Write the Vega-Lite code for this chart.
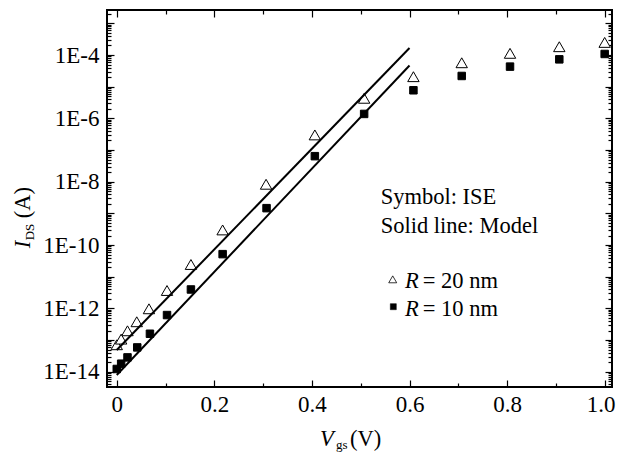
{
  "$schema": "https://vega.github.io/schema/vega-lite/v6.json",
  "width": 505,
  "height": 377,
  "autosize": {"type": "none"},
  "padding": {"left": 107, "top": 10, "right": 6, "bottom": 65},
  "background": "white",
  "config": {
    "view": {"stroke": "black", "strokeWidth": 2},
    "font": "Liberation Serif",
    "axis": {"labelFont": "Liberation Serif", "labelFontSize": 23, "labelColor": "black", "tickColor": "black", "tickWidth": 1.2, "domain": false, "grid": false, "labelFlush": false, "labelOverlap": false}
  },
  "datasets": {
    "ise": [
      {"R": "20 nm", "Vgs": 0.0, "Ids": 7.1e-14},
      {"R": "20 nm", "Vgs": 0.009, "Ids": 1.07e-13},
      {"R": "20 nm", "Vgs": 0.022, "Ids": 1.96e-13},
      {"R": "20 nm", "Vgs": 0.041, "Ids": 3.78e-13},
      {"R": "20 nm", "Vgs": 0.066, "Ids": 9.7e-13},
      {"R": "20 nm", "Vgs": 0.103, "Ids": 3.67e-12},
      {"R": "20 nm", "Vgs": 0.152, "Ids": 2.43e-11},
      {"R": "20 nm", "Vgs": 0.217, "Ids": 3.0e-10},
      {"R": "20 nm", "Vgs": 0.306, "Ids": 8.3e-9},
      {"R": "20 nm", "Vgs": 0.406, "Ids": 3.0e-7},
      {"R": "20 nm", "Vgs": 0.507, "Ids": 4.3e-6},
      {"R": "20 nm", "Vgs": 0.608, "Ids": 2.07e-5},
      {"R": "20 nm", "Vgs": 0.707, "Ids": 5.7e-5},
      {"R": "20 nm", "Vgs": 0.806, "Ids": 1.13e-4},
      {"R": "20 nm", "Vgs": 0.907, "Ids": 1.83e-4},
      {"R": "20 nm", "Vgs": 1.0, "Ids": 2.5e-4},
      {"R": "10 nm", "Vgs": 0.0, "Ids": 1.22e-14},
      {"R": "10 nm", "Vgs": 0.009, "Ids": 1.79e-14},
      {"R": "10 nm", "Vgs": 0.022, "Ids": 2.83e-14},
      {"R": "10 nm", "Vgs": 0.042, "Ids": 5.85e-14},
      {"R": "10 nm", "Vgs": 0.068, "Ids": 1.58e-13},
      {"R": "10 nm", "Vgs": 0.103, "Ids": 6.15e-13},
      {"R": "10 nm", "Vgs": 0.152, "Ids": 3.95e-12},
      {"R": "10 nm", "Vgs": 0.217, "Ids": 5.16e-11},
      {"R": "10 nm", "Vgs": 0.307, "Ids": 1.46e-9},
      {"R": "10 nm", "Vgs": 0.406, "Ids": 6.4e-8},
      {"R": "10 nm", "Vgs": 0.507, "Ids": 1.38e-6},
      {"R": "10 nm", "Vgs": 0.608, "Ids": 7.7e-6},
      {"R": "10 nm", "Vgs": 0.707, "Ids": 2.18e-5},
      {"R": "10 nm", "Vgs": 0.806, "Ids": 4.3e-5},
      {"R": "10 nm", "Vgs": 0.907, "Ids": 7.3e-5},
      {"R": "10 nm", "Vgs": 1.0, "Ids": 1.08e-4}
    ],
    "model": [
      {"R": "20 nm", "Vgs": 0.0, "Ids": 4.84e-14},
      {"R": "20 nm", "Vgs": 0.6, "Ids": 1.66e-4},
      {"R": "10 nm", "Vgs": 0.0, "Ids": 7.87e-15},
      {"R": "10 nm", "Vgs": 0.6, "Ids": 4.67e-5}
    ],
    "one": [{}]
  },
  "resolve": {"axis": {"x": "independent", "y": "independent"}},
  "layer": [
    {
      "data": {"name": "ise"},
      "transform": [{"filter": "datum.R == '20 nm'"}],
      "mark": {"type": "point", "shape": "triangle-up", "size": 130, "filled": true, "fill": "white", "stroke": "black", "strokeWidth": 1, "opacity": 1},
      "encoding": {
        "x": {"field": "Vgs", "type": "quantitative", "scale": {"domain": [-0.02, 1.015], "nice": false, "zero": false},
          "axis": {"orient": "bottom", "values": [0, 0.2, 0.4, 0.6, 0.8, 1], "ticks": false, "labelPadding": 6, "labelOffset": {"condition": {"test": "datum.value == 1", "value": -4}, "value": 0}, "labelExpr": "datum.value == 0 ? '0' : format(datum.value, '.1f')", "title": null}},
        "y": {"field": "Ids", "type": "quantitative", "scale": {"type": "log", "domain": [3.29e-15, 2.64e-3], "nice": false, "zero": false},
          "axis": {"orient": "left", "values": [1e-14, 1e-12, 1e-10, 1e-8, 1e-6, 1e-4], "ticks": false, "labelPadding": 8, "labelExpr": "'1E-' + round(-log(datum.value)/LN10)", "title": null}}
      }
    },
    {
      "data": {"name": "ise"},
      "transform": [{"filter": "datum.R == '10 nm'"}],
      "mark": {"type": "point", "shape": "square", "size": 56, "filled": true, "fill": "black", "stroke": "black", "strokeWidth": 1, "opacity": 1},
      "encoding": {
        "x": {"field": "Vgs", "type": "quantitative", "scale": {"domain": [-0.02, 1.015], "nice": false, "zero": false},
          "axis": {"orient": "bottom", "values": [0, 0.2, 0.4, 0.6, 0.8, 1], "labels": false, "tickSize": -7, "title": null}},
        "y": {"field": "Ids", "type": "quantitative", "scale": {"type": "log", "domain": [3.29e-15, 2.64e-3], "nice": false, "zero": false},
          "axis": {"orient": "left", "values": [1e-14, 1e-13, 1e-12, 1e-11, 1e-10, 1e-9, 1e-8, 1e-7, 1e-6, 1e-5, 1e-4, 1e-3], "labels": false, "tickSize": -7, "title": null}}
      }
    },
    {
      "data": {"name": "model"},
      "mark": {"type": "line", "color": "black", "strokeWidth": 2},
      "encoding": {
        "detail": {"field": "R"},
        "x": {"field": "Vgs", "type": "quantitative", "scale": {"domain": [-0.02, 1.015], "nice": false, "zero": false},
          "axis": {"orient": "bottom", "values": [0.1, 0.3, 0.5, 0.7, 0.9], "labels": false, "tickSize": -4, "title": null}},
        "y": {"field": "Ids", "type": "quantitative", "scale": {"type": "log", "domain": [3.29e-15, 2.64e-3], "nice": false, "zero": false},
          "axis": {"orient": "left", "values": [4e-15,5e-15,6e-15,7e-15,8e-15,9e-15,2e-14,3e-14,4e-14,5e-14,6e-14,7e-14,8e-14,9e-14,2e-13,3e-13,4e-13,5e-13,6e-13,7e-13,8e-13,9e-13,2e-12,3e-12,4e-12,5e-12,6e-12,7e-12,8e-12,9e-12,2e-11,3e-11,4e-11,5e-11,6e-11,7e-11,8e-11,9e-11,2e-10,3e-10,4e-10,5e-10,6e-10,7e-10,8e-10,9e-10,2e-9,3e-9,4e-9,5e-9,6e-9,7e-9,8e-9,9e-9,2e-8,3e-8,4e-8,5e-8,6e-8,7e-8,8e-8,9e-8,2e-7,3e-7,4e-7,5e-7,6e-7,7e-7,8e-7,9e-7,2e-6,3e-6,4e-6,5e-6,6e-6,7e-6,8e-6,9e-6,2e-5,3e-5,4e-5,5e-5,6e-5,7e-5,8e-5,9e-5,2e-4,3e-4,4e-4,5e-4,6e-4,7e-4,8e-4,9e-4,2e-3], "labels": false, "tickSize": -4, "title": null}}
      }
    },
    {
      "data": {"name": "one"},
      "mark": {"type": "text", "text": ["Symbol: ISE", "Solid line: Model"], "align": "left", "baseline": "alphabetic", "fontSize": 22.5, "lineHeight": 29, "color": "black"},
      "encoding": {
        "x": {"datum": 0.541, "type": "quantitative", "scale": {"domain": [-0.02, 1.015], "nice": false, "zero": false},
          "axis": {"orient": "top", "values": [0, 0.2, 0.4, 0.6, 0.8, 1], "labels": false, "tickSize": -7, "title": null}},
        "y": {"datum": 1.93e-9, "type": "quantitative", "scale": {"type": "log", "domain": [3.29e-15, 2.64e-3], "nice": false, "zero": false},
          "axis": {"orient": "right", "values": [1e-14, 1e-13, 1e-12, 1e-11, 1e-10, 1e-9, 1e-8, 1e-7, 1e-6, 1e-5, 1e-4, 1e-3], "labels": false, "tickSize": -7, "title": null}}
      }
    },
    {
      "data": {"name": "one"},
      "mark": {"type": "point", "shape": "triangle-up", "size": 64, "filled": true, "fill": "white", "stroke": "black", "strokeWidth": 0.8, "opacity": 1},
      "encoding": {
        "x": {"datum": 0.5656, "type": "quantitative", "scale": {"domain": [-0.02, 1.015], "nice": false, "zero": false},
          "axis": {"orient": "top", "values": [0.1, 0.3, 0.5, 0.7, 0.9], "labels": false, "tickSize": -4, "title": null}},
        "y": {"datum": 8.26e-12, "type": "quantitative", "scale": {"type": "log", "domain": [3.29e-15, 2.64e-3], "nice": false, "zero": false},
          "axis": {"orient": "right", "values": [4e-15,5e-15,6e-15,7e-15,8e-15,9e-15,2e-14,3e-14,4e-14,5e-14,6e-14,7e-14,8e-14,9e-14,2e-13,3e-13,4e-13,5e-13,6e-13,7e-13,8e-13,9e-13,2e-12,3e-12,4e-12,5e-12,6e-12,7e-12,8e-12,9e-12,2e-11,3e-11,4e-11,5e-11,6e-11,7e-11,8e-11,9e-11,2e-10,3e-10,4e-10,5e-10,6e-10,7e-10,8e-10,9e-10,2e-9,3e-9,4e-9,5e-9,6e-9,7e-9,8e-9,9e-9,2e-8,3e-8,4e-8,5e-8,6e-8,7e-8,8e-8,9e-8,2e-7,3e-7,4e-7,5e-7,6e-7,7e-7,8e-7,9e-7,2e-6,3e-6,4e-6,5e-6,6e-6,7e-6,8e-6,9e-6,2e-5,3e-5,4e-5,5e-5,6e-5,7e-5,8e-5,9e-5,2e-4,3e-4,4e-4,5e-4,6e-4,7e-4,8e-4,9e-4,2e-3], "labels": false, "tickSize": -4, "title": null}}
      }
    },
    {
      "data": {"name": "one"},
      "mark": {"type": "point", "shape": "square", "size": 36, "filled": true, "fill": "black", "stroke": "black", "strokeWidth": 0.5, "opacity": 1},
      "encoding": {
        "x": {"datum": 0.5668, "type": "quantitative", "scale": {"domain": [-0.02, 1.015], "nice": false, "zero": false}, "axis": null},
        "y": {"datum": 1.13e-12, "type": "quantitative", "scale": {"type": "log", "domain": [3.29e-15, 2.64e-3], "nice": false, "zero": false}, "axis": null}
      }
    },
    {
      "data": {"name": "one"},
      "mark": {"type": "text", "text": ["R", "R"], "fontStyle": "italic", "align": "left", "baseline": "alphabetic", "fontSize": 22.5, "lineHeight": 27.4, "color": "black"},
      "encoding": {
        "x": {"datum": 0.5908, "type": "quantitative", "scale": {"domain": [-0.02, 1.015], "nice": false, "zero": false}, "axis": null},
        "y": {"datum": 4.3e-12, "type": "quantitative", "scale": {"type": "log", "domain": [3.29e-15, 2.64e-3], "nice": false, "zero": false}, "axis": null}
      }
    },
    {
      "data": {"name": "one"},
      "mark": {"type": "text", "text": ["= 20 nm", "= 10 nm"], "align": "left", "baseline": "alphabetic", "fontSize": 22.5, "lineHeight": 27.4, "color": "black"},
      "encoding": {
        "x": {"datum": 0.627, "type": "quantitative", "scale": {"domain": [-0.02, 1.015], "nice": false, "zero": false}, "axis": null},
        "y": {"datum": 4.3e-12, "type": "quantitative", "scale": {"type": "log", "domain": [3.29e-15, 2.64e-3], "nice": false, "zero": false}, "axis": null}
      }
    },
    {
      "data": {"name": "one"},
      "mark": {"type": "text", "text": "V", "fontStyle": "italic", "align": "left", "baseline": "alphabetic", "fontSize": 22.5, "color": "black"},
      "encoding": {
        "x": {"datum": 0.4166, "type": "quantitative", "scale": {"domain": [-0.02, 1.015], "nice": false, "zero": false}, "axis": null},
        "y": {"datum": 4.51e-17, "type": "quantitative", "scale": {"type": "log", "domain": [3.29e-15, 2.64e-3], "nice": false, "zero": false}, "axis": null}
      }
    },
    {
      "data": {"name": "one"},
      "mark": {"type": "text", "text": "gs", "align": "left", "baseline": "alphabetic", "fontSize": 13, "color": "black"},
      "encoding": {
        "x": {"datum": 0.4494, "type": "quantitative", "scale": {"domain": [-0.02, 1.015], "nice": false, "zero": false}, "axis": null},
        "y": {"datum": 3.75e-17, "type": "quantitative", "scale": {"type": "log", "domain": [3.29e-15, 2.64e-3], "nice": false, "zero": false}, "axis": null}
      }
    },
    {
      "data": {"name": "one"},
      "mark": {"type": "text", "text": "(V)", "align": "left", "baseline": "alphabetic", "fontSize": 22.5, "color": "black"},
      "encoding": {
        "x": {"datum": 0.478, "type": "quantitative", "scale": {"domain": [-0.02, 1.015], "nice": false, "zero": false}, "axis": null},
        "y": {"datum": 4.51e-17, "type": "quantitative", "scale": {"type": "log", "domain": [3.29e-15, 2.64e-3], "nice": false, "zero": false}, "axis": null}
      }
    },
    {
      "data": {"name": "one"},
      "mark": {"type": "text", "text": "I", "fontStyle": "italic", "angle": 270, "align": "left", "baseline": "alphabetic", "fontSize": 22.5, "color": "black"},
      "encoding": {
        "x": {"datum": -0.1777, "type": "quantitative", "scale": {"domain": [-0.02, 1.015], "nice": false, "zero": false}, "axis": null},
        "y": {"datum": 7.87e-11, "type": "quantitative", "scale": {"type": "log", "domain": [3.29e-15, 2.64e-3], "nice": false, "zero": false}, "axis": null}
      }
    },
    {
      "data": {"name": "one"},
      "mark": {"type": "text", "text": "DS", "angle": 270, "align": "left", "baseline": "alphabetic", "fontSize": 13, "color": "black"},
      "encoding": {
        "x": {"datum": -0.1695, "type": "quantitative", "scale": {"domain": [-0.02, 1.015], "nice": false, "zero": false}, "axis": null},
        "y": {"datum": 1.41e-10, "type": "quantitative", "scale": {"type": "log", "domain": [3.29e-15, 2.64e-3], "nice": false, "zero": false}, "axis": null}
      }
    },
    {
      "data": {"name": "one"},
      "mark": {"type": "text", "text": "(A)", "angle": 270, "align": "left", "baseline": "alphabetic", "fontSize": 22.5, "color": "black"},
      "encoding": {
        "x": {"datum": -0.1777, "type": "quantitative", "scale": {"domain": [-0.02, 1.015], "nice": false, "zero": false}, "axis": null},
        "y": {"datum": 7.03e-10, "type": "quantitative", "scale": {"type": "log", "domain": [3.29e-15, 2.64e-3], "nice": false, "zero": false}, "axis": null}
      }
    }
  ]
}
